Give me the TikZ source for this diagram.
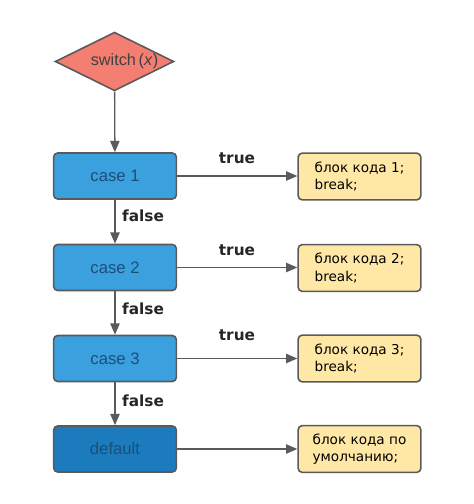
\documentclass[tikz,border=0pt]{standalone}
\usepackage{fontspec}
\setmainfont{Liberation Sans}
\newfontfamily\dejavu{DejaVu Sans}
\usetikzlibrary{shapes.geometric,arrows.meta}
\definecolor{lineg}{HTML}{5A5A5A}
\definecolor{diafill}{HTML}{F47E72}
\definecolor{casefill}{HTML}{3BA1DE}
\definecolor{deffill}{HTML}{1B7BBD}
\definecolor{casetext}{HTML}{1D4E78}
\definecolor{codefill}{HTML}{FFE7A6}
\tikzset{
  casebox/.style={draw=lineg, line width=1.2pt, rounded corners=3pt, fill=casefill,
    minimum width=92pt, minimum height=34.5pt, text=casetext, font=\fontsize{12.5}{14}\selectfont},
  defbox/.style={casebox, fill=deffill},
  codebox/.style={draw=lineg, line width=1.2pt, rounded corners=3pt, fill=codefill,
    minimum width=92pt, minimum height=35pt, align=left,
    font=\dejavu\fontsize{10.2}{13.2}\selectfont, inner sep=0pt},
  decbox/.style={diamond, draw=lineg, line width=1.2pt, fill=diafill, aspect=2,
    minimum width=89pt, minimum height=44pt, inner sep=0pt},
  declbl/.style={text=black!75, font=\fontsize{12.2}{14}\selectfont, inner sep=0pt},
  conn/.style={draw=lineg, line width=1pt, -{Triangle[length=8.5pt,width=7pt]}},
  lbl/.style={font=\dejavu\bfseries\fontsize{11.5}{13}\selectfont, text=black!85},
}
\begin{document}
\begin{tikzpicture}[x=0.75pt,y=-0.75pt]
\useasboundingbox (0,0) rectangle (474,504);
\node[decbox] (sw) at (114.5,61.5) {};
\node[declbl] (swt) at (124.5,61.5) {switch\,(\textit{x})};
\node[casebox] (c1) at (115,176) {case 1};
\node[casebox] (c2) at (115,267.5) {case 2};
\node[casebox] (c3) at (115,358.5) {case 3};
\node[defbox] (df) at (115,449) {default};
\node[codebox] (b1) at (359.5,176.5) {блок кода 1;\\break;};
\node[codebox] (b2) at (359.5,268) {блок кода 2;\\break;};
\node[codebox] (b3) at (359.5,358.5) {блок кода 3;\\break;};
\node[codebox] (b4) at (359.5,449) {блок кода по\\умолчанию;};
\draw[conn] (sw) -- (c1);
\draw[conn] (c1) -- (c2);
\draw[conn] (c2) -- (c3);
\draw[conn] (c3) -- (df);
\draw[conn] (c1.east) -- (b1.west |- c1.east);
\draw[conn] (c2.east) -- (b2.west |- c2.east);
\draw[conn] (c3.east) -- (b3.west |- c3.east);
\draw[conn] (df.east) -- (b4.west |- df.east);
\node[lbl] (t1) at (237,158) {true};
\node[lbl] (t2) at (237,250) {true};
\node[lbl] (t3) at (237,335) {true};
\node[lbl] (f1) at (143,216) {false};
\node[lbl] (f2) at (143,309) {false};
\node[lbl] (f3) at (143,401) {false};
\end{tikzpicture}
\end{document}
